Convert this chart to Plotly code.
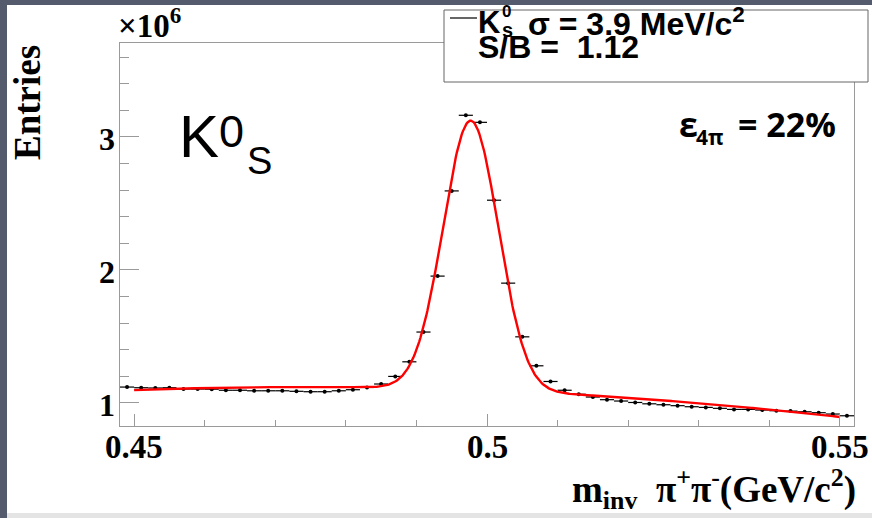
import numpy as np
import plotly.graph_objects as go

# Invariant-mass histogram of pi+ pi- pairs (bin centres in GeV/c^2, entries in units of 10^6)
bin_centers = [
    0.449, 0.451, 0.453, 0.455, 0.457, 0.459, 0.461, 0.463, 0.465, 0.467,
    0.469, 0.471, 0.473, 0.475, 0.477, 0.479, 0.481, 0.483, 0.485, 0.487,
    0.489, 0.491, 0.493, 0.495, 0.497, 0.499, 0.501, 0.503, 0.505, 0.507,
    0.509, 0.511, 0.513, 0.515, 0.517, 0.519, 0.521, 0.523, 0.525, 0.527,
    0.529, 0.531, 0.533, 0.535, 0.537, 0.539, 0.541, 0.543, 0.545, 0.547,
    0.549, 0.551,
]
entries_1e6 = [
    1.118, 1.113, 1.111, 1.113, 1.103, 1.103, 1.102, 1.094, 1.094, 1.090,
    1.090, 1.090, 1.086, 1.083, 1.083, 1.090, 1.098, 1.115, 1.141, 1.198,
    1.308, 1.532, 1.953, 2.594, 3.163, 3.110, 2.524, 1.900, 1.496, 1.278,
    1.160, 1.094, 1.064, 1.043, 1.023, 1.013, 1.002, 0.992, 0.985, 0.978,
    0.970, 0.965, 0.958, 0.950, 0.950, 0.945, 0.940, 0.937, 0.932, 0.925,
    0.915, 0.902,
]
bin_half_width = 0.001

# Fit: Gaussian peak on a quadratic background
fit_mean = 0.4977
fit_sigma = 0.0039
fit_amplitude = 2.025
bkg_coeffs = [1.0929, -2.02, -39.58]  # a + b*(m-0.5) + c*(m-0.5)^2
fit_range = (0.45, 0.55)

x_ticks = [0.45, 0.5, 0.55]
x_tick_text = ["0.45", "0.5", "0.55"]
y_ticks = [1, 2, 3]
y_tick_text = ["1", "2", "3"]

m_fit = np.linspace(fit_range[0], fit_range[1], 600)
t = m_fit - 0.5
y_fit = (bkg_coeffs[0] + bkg_coeffs[1] * t + bkg_coeffs[2] * t ** 2
         + fit_amplitude * np.exp(-0.5 * ((m_fit - fit_mean) / fit_sigma) ** 2))

W, H = 872, 518
L, R, T, B = 120, 18, 43, 92
PW, PH = W - L - R, H - T - B


def px(x):
    return (x - L) / PW


def py(y):
    return (H - B - y) / PH


SERIF = "Liberation Serif"
SANS = "Liberation Sans"
FRAME = "#9a9a9a"

fig = go.Figure()
fig.add_trace(go.Scatter(
    x=bin_centers, y=entries_1e6, mode="markers",
    marker=dict(color="black", size=4),
    error_x=dict(type="constant", value=bin_half_width, color="black",
                 thickness=1.2, width=0),
    showlegend=False, hoverinfo="skip",
))
fig.add_trace(go.Scatter(
    x=m_fit, y=y_fit, mode="lines",
    line=dict(color="#ff0000", width=2.4),
    showlegend=False, hoverinfo="skip",
))

fig.update_layout(
    width=W, height=H,
    margin=dict(l=L, r=R, t=T, b=B, pad=0),
    paper_bgcolor="white", plot_bgcolor="white",
    xaxis=dict(
        range=[0.448, 0.552], tickvals=x_ticks, showticklabels=False,
        ticks="inside", ticklen=12, tickwidth=1, tickcolor=FRAME,
        showline=True, linecolor=FRAME, linewidth=1, mirror=True,
        showgrid=False, zeroline=False,
        minor=dict(dtick=0.01, tick0=0.45, ticks="inside", ticklen=6,
                   tickcolor=FRAME, tickwidth=1, showgrid=False),
    ),
    yaxis=dict(
        range=[0.825, 3.707], tickvals=y_ticks, showticklabels=False,
        ticks="inside", ticklen=19, tickwidth=1, tickcolor=FRAME,
        showline=True, linecolor=FRAME, linewidth=1, mirror=True,
        showgrid=False, zeroline=False,
        minor=dict(dtick=0.2, tick0=0, ticks="inside", ticklen=9,
                   tickcolor=FRAME, tickwidth=1, showgrid=False),
    ),
)

shapes = [
    # slide border strips
    dict(type="rect", xref="paper", yref="paper", x0=px(0), x1=px(7), y0=py(H), y1=py(0),
         fillcolor="#545b6d", line=dict(width=0), layer="above"),
    dict(type="rect", xref="paper", yref="paper", x0=px(0), x1=px(W), y0=py(5), y1=py(0),
         fillcolor="#545b6d", line=dict(width=0), layer="above"),
    dict(type="rect", xref="paper", yref="paper", x0=px(7), x1=px(W), y0=py(H), y1=py(513),
         fillcolor="#e4e4e4", line=dict(width=0), layer="above"),
    # legend box
    dict(type="rect", xref="paper", yref="paper", x0=px(444), x1=px(868), y0=py(82), y1=py(10),
         fillcolor="white", line=dict(color="#666666", width=1), layer="above"),
    dict(type="line", xref="paper", yref="paper", x0=px(450), x1=px(477), y0=py(18), y1=py(18),
         line=dict(color="black", width=1.2), layer="above"),
]
fig.update_layout(shapes=shapes)


def note(text, x, y, size, family, bold=False, xanchor="left", yanchor="middle", angle=0):
    if bold:
        text = "<b>%s</b>" % text
    fig.add_annotation(
        text=text, x=px(x), y=py(y), xref="paper", yref="paper",
        xanchor=xanchor, yanchor=yanchor, showarrow=False, textangle=angle,
        borderpad=0,
        font=dict(family=family, size=size, color="black"),
    )


# axis tick labels placed at the tick values
for val, label in zip(x_ticks, x_tick_text):
    fig.add_annotation(
        text="<b>%s</b>" % label, x=val, y=py(447), xref="x", yref="paper",
        xanchor="center", yanchor="middle", showarrow=False, borderpad=0,
        font=dict(family=SERIF, size=33, color="black"),
    )
for val, label in zip(y_ticks, y_tick_text):
    fig.add_annotation(
        text="<b>%s</b>" % label, x=px(116), y=val, xref="paper", yref="y",
        xanchor="right", yanchor="middle", yshift=-2, showarrow=False, borderpad=0,
        font=dict(family=SERIF, size=32, color="black"),
    )

note("Entries", 27, 102, 37, SERIF, bold=True, xanchor="center", angle=-90)
note("×10<sup>6</sup>", 117, 45, 33, SERIF, bold=True, yanchor="bottom")

# particle label
note("K", 178, 136, 60, SANS)
note("0", 218, 131, 45, SANS)
note("S", 246, 161, 38, SANS)

# legend text
note("K", 477, 23, 31, SANS, bold=True)
note("0", 501, 12, 17, SANS, bold=True)
note("s", 501, 30, 20, SANS, bold=True)
note("σ = 3.9 MeV/c<sup>2</sup>", 527, 22, 32, SANS, bold=True)
note("S/B =\u00a0 1.12", 477, 47, 32, SANS, bold=True)

# efficiency label
note("ε", 678, 124, 34, "Open Sans", bold=True)
note("4π", 695, 137, 21, "Open Sans", bold=True)
note("= 22%", 737, 124, 34, "Open Sans", bold=True)

# x-axis title
note("m<sub>inv</sub>\u00a0\u00a0π<sup>+</sup>π<sup>-</sup>(GeV/c<sup>2</sup>)",
     857, 489, 37, SERIF, bold=True, xanchor="right")

fig.write_html("out.html")
